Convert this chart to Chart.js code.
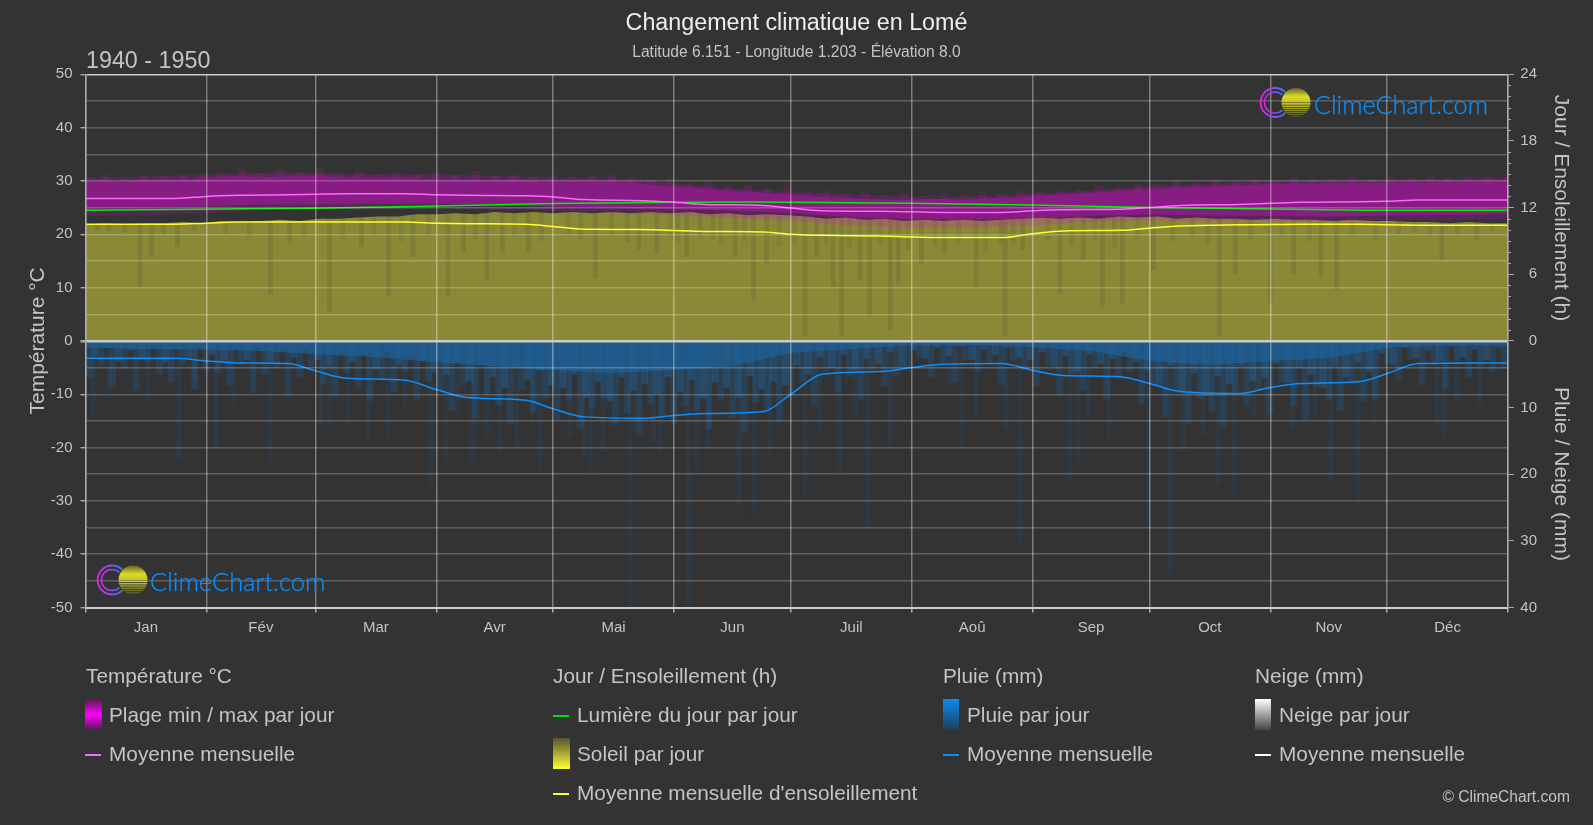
<!DOCTYPE html>
<html lang="fr">
<head>
<meta charset="utf-8">
<title>Changement climatique en Lomé</title>
<script src="https://cdn.jsdelivr.net/npm/chart.js@4"></script>
<style>
html, body { margin: 0; background: #333333; }
#page { position: relative; width: 1593px; height: 825px; overflow: hidden; font-family: "Liberation Sans", Arial, sans-serif; color: #c4c4c4; }
canvas { position: absolute; left: 0; top: 0; }
.txt { position: absolute; white-space: nowrap; line-height: 1; }
.legend { font-size: 20.8px; transform: translateY(-50%); }
.rot { font-size: 21px; transform: translate(-50%, -50%) rotate(90deg); }
.sw { position: absolute; width: 17px; height: 31px; }
.ln { position: absolute; width: 16px; height: 1.5px; }
.logo { position: absolute; width: 260px; height: 44px; }
</style>
</head>
<body>
<div id="page">
<canvas id="grafico" width="1593" height="825"></canvas>

<div class="txt" style="left:86px;top:49px;font-size:23.3px;color:#c4c4c4">1940 - 1950</div>
<div class="txt rot" style="left:1562px;top:208px">Jour / Ensoleillement (h)</div>
<div class="txt rot" style="left:1562px;top:474px">Pluie / Neige (mm)</div>

<svg width="0" height="0" style="position:absolute">
  <defs>
    <linearGradient id="anel" x1="0" x2="1" y1="0" y2="0"><stop offset="0" stop-color="#e81ff0"/><stop offset="1" stop-color="#3a78f0"/></linearGradient>
    <linearGradient id="sol" x1="0" x2="0" y1="0" y2="1"><stop offset="0" stop-color="#5c5b2a"/><stop offset="0.6" stop-color="#dcd926"/><stop offset="1" stop-color="#c8c526"/></linearGradient>
    <clipPath id="disco"><circle cx="45" cy="22" r="14.5"/></clipPath>
    <g id="marca">
      <path d="M34.3 11.7 A14.5 14.5 0 1 0 34.3 32.3" fill="none" stroke="url(#anel)" stroke-width="1.8"/>
      <path d="M31.4 14.6 A10.5 10.5 0 1 0 31.4 29.4" fill="none" stroke="url(#anel)" stroke-width="1.4"/>
      <g clip-path="url(#disco)">
        <rect x="30" y="7" width="30" height="15" fill="url(#sol)"/>
        <rect x="30" y="22.6" width="30" height="1.6" fill="#d4d126"/>
        <rect x="30" y="25" width="30" height="1.5" fill="#bdbb27"/>
        <rect x="30" y="27.3" width="30" height="1.4" fill="#a6a428"/>
        <rect x="30" y="29.5" width="30" height="1.3" fill="#908e29"/>
        <rect x="30" y="31.6" width="30" height="1.2" fill="#7b7a2a"/>
        <rect x="30" y="33.6" width="30" height="1.2" fill="#66652b"/>
        <rect x="30" y="35.4" width="30" height="1.2" fill="#58572c"/>
      </g>
    </g>
  </defs>
</svg>
<svg class="logo" style="left:1242px;top:82px"><use href="#marca" x="9" y="-1.5"/><text x="72" y="32" font-family="Lato" font-weight="300" font-size="25.2" fill="#0a8fff" stroke="#0a8fff" stroke-width="0.25">ClimeChart.com</text></svg>
<svg class="logo" style="left:77px;top:558px"><use href="#marca" x="11" y="0"/><text x="73" y="33" font-family="Lato" font-weight="300" font-size="25.4" fill="#0a8fff" stroke="#0a8fff" stroke-width="0.25">ClimeChart.com</text></svg>

<div class="txt legend" style="left:86px;top:676px">Température °C</div>
<div class="sw" style="left:85px;top:699px;background:linear-gradient(#551a55,#ff00ff 50%,#551a55)"></div>
<div class="txt legend" style="left:109px;top:715px">Plage min / max par jour</div>
<div class="ln" style="left:85px;top:754px;background:#ff66ff"></div>
<div class="txt legend" style="left:109px;top:754px">Moyenne mensuelle</div>

<div class="txt legend" style="left:553px;top:676px">Jour / Ensoleillement (h)</div>
<div class="ln" style="left:553px;top:715px;background:#00e000"></div>
<div class="txt legend" style="left:577px;top:715px">Lumière du jour par jour</div>
<div class="sw" style="left:553px;top:738px;background:linear-gradient(#55552c,#ffff33)"></div>
<div class="txt legend" style="left:577px;top:754px">Soleil par jour</div>
<div class="ln" style="left:553px;top:793px;background:#ffff33"></div>
<div class="txt legend" style="left:577px;top:793px">Moyenne mensuelle d'ensoleillement</div>

<div class="txt legend" style="left:943px;top:676px">Pluie (mm)</div>
<div class="sw" style="left:943px;top:699px;width:16px;background:linear-gradient(#0a8cf0,#1f3f58)"></div>
<div class="txt legend" style="left:967px;top:715px">Pluie par jour</div>
<div class="ln" style="left:943px;top:754px;background:#0a8cf0"></div>
<div class="txt legend" style="left:967px;top:754px">Moyenne mensuelle</div>

<div class="txt legend" style="left:1255px;top:676px">Neige (mm)</div>
<div class="sw" style="left:1255px;top:699px;width:16px;background:linear-gradient(#ffffff,#444444)"></div>
<div class="txt legend" style="left:1279px;top:715px">Neige par jour</div>
<div class="ln" style="left:1255px;top:754px;background:#ffffff"></div>
<div class="txt legend" style="left:1279px;top:754px">Moyenne mensuelle</div>

<div class="txt" style="right:23px;top:789px;font-size:15.6px">© ClimeChart.com</div>
</div>

<script>
// Valeurs. Jours comptés depuis le 1er janvier.
const months = ['Jan', 'Fév', 'Mar', 'Avr', 'Mai', 'Jun', 'Juil', 'Aoû', 'Sep', 'Oct', 'Nov', 'Déc'];
const monthStarts = [0, 31, 59, 90, 120, 151, 181, 212, 243, 273, 304, 334, 365];
const monthMiddles = [15.5, 45, 74.5, 105, 135.5, 166, 196.5, 227.5, 258, 288.5, 319, 349.5];

// moyennes mensuelles
const meanDays = [0, 8, 23, 31, 39, 52, 59, 67, 82, 90, 98, 113, 120, 128, 143, 151, 159, 174, 181, 189, 204, 212, 220, 235, 243, 251, 266, 273, 281, 296, 304, 312, 327, 334, 342, 357, 365];
const tempMean = [26.7, 26.7, 26.7, 27.1, 27.3, 27.4, 27.5, 27.6, 27.6, 27.4, 27.3, 27.2, 27.0, 26.5, 26.3, 26.0, 25.6, 25.4, 24.9, 24.4, 24.3, 24.2, 24.1, 24.1, 24.4, 24.6, 24.7, 25.0, 25.4, 25.6, 25.8, 26.0, 26.1, 26.2, 26.4, 26.4, 26.4];
const sunMean = [10.5, 10.5, 10.5, 10.6, 10.7, 10.7, 10.7, 10.7, 10.7, 10.6, 10.55, 10.5, 10.3, 10.05, 10.03, 9.93, 9.85, 9.8, 9.6, 9.5, 9.45, 9.35, 9.3, 9.3, 9.65, 9.9, 9.95, 10.15, 10.35, 10.45, 10.47, 10.5, 10.5, 10.45, 10.42, 10.4, 10.4];
const rainMean = [2.6, 2.6, 2.6, 3.0, 3.3, 3.4, 4.5, 5.6, 5.9, 7.3, 8.5, 8.9, 10.2, 11.4, 11.6, 11.2, 10.9, 10.6, 8.0, 5.0, 4.6, 4.0, 3.5, 3.4, 4.4, 5.2, 5.4, 6.4, 7.6, 7.9, 7.0, 6.4, 6.1, 4.9, 3.4, 3.3, 3.3];

// durée du jour (h)
const daylightDays = [0, 31, 59, 90, 120, 151, 172, 181, 212, 243, 273, 304, 334, 365];
const daylight = [11.76, 11.86, 11.95, 12.14, 12.36, 12.48, 12.5, 12.48, 12.38, 12.24, 12.0, 11.88, 11.76, 11.76];

// bords des bandes, tous les 5 jours
const edgeDays = [0, 5, 10, 15, 20, 25, 30, 35, 40, 45, 50, 55, 60, 65, 70, 75, 80, 85, 90, 95, 100, 105, 110, 115, 120, 125, 130, 135, 140, 145, 150, 155, 160, 165, 170, 175, 180, 185, 190, 195, 200, 205, 210, 215, 220, 225, 230, 235, 240, 245, 250, 255, 260, 265, 270, 275, 280, 285, 290, 295, 300, 305, 310, 315, 320, 325, 330, 335, 340, 345, 350, 355, 360, 365];
const tempTop = [30.0, 30.1, 29.9, 30.2, 30.3, 30.2, 30.5, 30.8, 30.9, 30.7, 30.8, 30.9, 31.0, 30.6, 30.7, 30.5, 30.6, 30.4, 30.3, 30.3, 30.2, 30.0, 30.3, 29.9, 29.9, 30.0, 29.8, 29.9, 29.7, 29.3, 29.0, 28.8, 28.5, 28.1, 28.0, 27.7, 27.5, 27.2, 27.0, 26.9, 26.7, 26.5, 26.5, 26.6, 26.6, 26.5, 26.7, 26.8, 27.0, 27.3, 27.5, 27.6, 27.9, 28.1, 28.4, 28.6, 28.7, 28.9, 29.0, 29.1, 29.3, 29.4, 29.5, 29.5, 29.6, 29.7, 29.6, 29.7, 29.8, 29.7, 29.9, 29.8, 30.0, 30.1];
const tempFringe = [30.7, 31.2, 30.5, 31.0, 30.9, 31.3, 31.4, 31.5, 32.2, 31.4, 32.0, 31.6, 32.3, 31.3, 31.7, 31.1, 31.6, 31.2, 31.5, 31.0, 31.8, 30.9, 31.2, 30.8, 31.1, 30.7, 31.0, 31.4, 30.6, 30.2, 30.3, 29.6, 29.8, 29.0, 29.2, 28.5, 28.8, 28.0, 28.1, 27.6, 27.9, 27.2, 27.7, 27.2, 27.6, 27.1, 27.8, 27.4, 28.1, 28.0, 28.4, 28.3, 29.0, 28.8, 29.5, 29.3, 29.9, 29.5, 30.2, 29.8, 30.2, 30.1, 30.6, 30.3, 30.5, 30.9, 30.3, 30.7, 30.5, 30.9, 30.6, 31.0, 30.7, 31.2];
const sunTop = [10.5, 10.6, 10.5, 10.6, 10.6, 10.7, 10.6, 10.8, 10.7, 10.8, 10.9, 10.8, 11.0, 11.0, 11.1, 11.2, 11.2, 11.4, 11.4, 11.5, 11.4, 11.6, 11.5, 11.6, 11.5, 11.6, 11.5, 11.6, 11.5, 11.6, 11.5, 11.6, 11.4, 11.5, 11.3, 11.4, 11.3, 11.2, 11.0, 11.1, 10.9, 11.0, 10.8, 10.9, 10.8, 10.9, 10.8, 10.9, 11.0, 11.1, 11.0, 11.1, 11.0, 11.2, 11.1, 11.2, 11.0, 11.1, 11.0, 11.0, 10.9, 11.0, 10.9, 10.9, 10.8, 10.9, 10.8, 10.8, 10.7, 10.7, 10.6, 10.7, 10.6, 10.6];

// bords plus lisses, par demi-mois
const halfDays = [0, 15, 31, 45, 59, 74, 90, 105, 120, 135, 151, 166, 181, 196, 212, 227, 243, 258, 273, 288, 304, 319, 334, 349, 365];
const tempFuzzTop = [30.6, 30.8, 31.1, 31.5, 31.5, 31.2, 31.2, 31.0, 30.6, 30.6, 29.5, 28.6, 27.9, 27.4, 27.1, 27.1, 27.6, 28.2, 29.0, 29.5, 29.9, 30.1, 30.2, 30.4, 30.6];
const tempFuzzBottom = [23.4, 23.5, 24.0, 24.6, 24.8, 24.8, 24.9, 24.8, 24.4, 24.0, 23.6, 23.0, 22.6, 21.6, 21.2, 21.2, 21.6, 22.4, 22.6, 22.5, 22.5, 22.4, 22.6, 22.6, 22.8];
const tempBottom = [24.8, 25.0, 25.2, 25.6, 25.6, 25.7, 25.7, 25.5, 25.2, 25.0, 24.7, 24.4, 24.0, 23.2, 22.8, 22.7, 23.0, 23.4, 23.7, 23.5, 23.4, 23.3, 23.5, 23.6, 23.8];
const rainCore = [1.0, 1.2, 1.3, 1.5, 2.0, 2.4, 3.2, 3.8, 4.4, 4.8, 4.4, 3.8, 1.8, 1.2, 0.7, 0.6, 0.9, 1.5, 3.0, 3.6, 3.0, 2.6, 1.0, 0.7, 0.7];

// pluie : profondeur dense, un trait tous les 3 jours
const rainDenseDays = [1, 4, 7, 10, 13, 16, 19, 22, 25, 28, 31, 34, 37, 40, 43, 46, 49, 52, 55, 58, 61, 64, 67, 70, 73, 76, 79, 82, 85, 88, 91, 94, 97, 100, 103, 106, 109, 112, 115, 118, 121, 124, 127, 130, 133, 136, 139, 142, 145, 148, 151, 154, 157, 160, 163, 166, 169, 172, 175, 178, 181, 184, 187, 190, 193, 196, 199, 202, 205, 208, 211, 214, 217, 220, 223, 226, 229, 232, 235, 238, 241, 244, 247, 250, 253, 256, 259, 262, 265, 268, 271, 274, 277, 280, 283, 286, 289, 292, 295, 298, 301, 304, 307, 310, 313, 316, 319, 322, 325, 328, 331, 334, 337, 340, 343, 346, 349, 352, 355, 358, 361, 364];
const rainDense = [5.5, 3.6, 6.8, 4.2, 7.4, 3.2, 5.0, 6.2, 3.4, 7.2, 4.4, 4.8, 6.6, 3.6, 7.8, 5.0, 4.0, 8.2, 5.4, 3.8, 6.4, 8.4, 4.8, 7.0, 9.0, 5.6, 7.6, 4.6, 8.8, 6.0, 7.4, 10.4, 6.6, 11.6, 8.0, 9.6, 12.4, 7.2, 10.6, 8.6, 11.8, 9.0, 13.0, 10.2, 8.6, 12.6, 10.8, 14.0, 9.4, 11.2, 12.4, 9.6, 10.4, 13.2, 8.8, 11.6, 13.8, 9.2, 10.8, 12.2, 8.4, 6.0, 9.6, 4.8, 7.6, 5.4, 8.8, 4.4, 6.8, 5.2, 4.2, 2.6, 5.4, 3.2, 6.2, 2.8, 4.6, 3.4, 6.6, 3.0, 4.4, 6.8, 3.6, 8.2, 5.0, 7.4, 4.0, 8.8, 5.6, 4.6, 9.4, 6.4, 11.4, 7.8, 12.4, 8.6, 10.6, 13.0, 7.6, 9.8, 7.4, 10.8, 6.2, 9.6, 11.8, 6.8, 8.8, 10.4, 6.4, 9.0, 8.6, 3.4, 5.8, 2.8, 6.6, 3.6, 7.0, 3.0, 5.4, 3.8, 4.6, 4.2];
// traits courts entre les précédents
const rainShortDays = [2.5, 5.5, 8.5, 11.5, 14.5, 17.5, 20.5, 23.5, 26.5, 29.5, 32.5, 35.5, 38.5, 41.5, 44.5, 47.5, 50.5, 53.5, 56.5, 59.5, 62.5, 65.5, 68.5, 71.5, 74.5, 77.5, 80.5, 83.5, 86.5, 89.5, 92.5, 95.5, 98.5, 101.5, 104.5, 107.5, 110.5, 113.5, 116.5, 119.5, 122.5, 125.5, 128.5, 131.5, 134.5, 137.5, 140.5, 143.5, 146.5, 149.5, 152.5, 155.5, 158.5, 161.5, 164.5, 167.5, 170.5, 173.5, 176.5, 179.5, 182.5, 185.5, 188.5, 191.5, 194.5, 197.5, 200.5, 203.5, 206.5, 209.5, 212.5, 215.5, 218.5, 221.5, 224.5, 227.5, 230.5, 233.5, 236.5, 239.5, 242.5, 245.5, 248.5, 251.5, 254.5, 257.5, 260.5, 263.5, 266.5, 269.5, 272.5, 275.5, 278.5, 281.5, 284.5, 287.5, 290.5, 293.5, 296.5, 299.5, 302.5, 305.5, 308.5, 311.5, 314.5, 317.5, 320.5, 323.5, 326.5, 329.5, 332.5, 335.5, 338.5, 341.5, 344.5, 347.5, 350.5, 353.5, 356.5, 359.5, 362.5];
const rainShort = [2.2, 1.0, 3.0, 1.4, 2.4, 0.8, 3.2, 1.2, 2.6, 1.0, 2.0, 3.0, 1.2, 2.8, 1.0, 3.4, 1.4, 2.4, 1.0, 2.8, 3.8, 1.8, 3.2, 2.0, 4.2, 1.6, 3.6, 2.2, 3.0, 4.6, 5.0, 3.0, 6.0, 3.6, 5.4, 7.0, 3.8, 5.8, 4.4, 6.6, 7.0, 5.0, 8.4, 6.0, 9.0, 5.4, 7.4, 6.4, 8.0, 5.4, 7.6, 5.8, 8.6, 6.2, 7.0, 8.4, 5.2, 7.2, 6.0, 6.6, 3.6, 5.0, 2.4, 4.0, 2.0, 4.4, 2.6, 3.4, 1.6, 3.8, 1.4, 2.6, 1.0, 2.2, 0.8, 2.8, 1.2, 2.0, 1.0, 2.4, 2.8, 1.6, 3.8, 2.2, 4.6, 2.0, 3.4, 2.6, 1.6, 3.2, 4.4, 6.8, 3.6, 7.6, 4.8, 8.2, 5.2, 6.4, 3.8, 6.0, 5.6, 3.4, 6.2, 4.0, 5.0, 7.0, 3.8, 5.4, 3.2, 4.6, 1.8, 3.6, 1.0, 2.6, 1.4, 3.0, 0.8, 2.4, 1.2, 2.8, 1.0];

// pluie : grands traits isolés
const rainSpikeDays = [2, 6, 16, 24, 28, 33.5, 38, 47.5, 60.5, 62.6, 67.5, 72.5, 77.4, 82, 88.6, 92.5, 95.5, 99.4, 103, 106.5, 110.7, 114.6, 116.6, 124.4, 127.8, 129.7, 132.7, 139.6, 145.8, 147.6, 154.7, 156.9, 159.8, 167.7, 171.6, 175.6, 184.6, 188.4, 193.5, 197.5, 200.7, 206.5, 221.5, 224.7, 228.5, 236.2, 239.6, 252.6, 254.6, 257.3, 262.7, 272.7, 278.4, 281.7, 286.7, 290.7, 294.7, 299.7, 303, 309.7, 315.5, 319.6, 326.6, 330.5, 346.8, 348.7, 351.8, 357.7];
const rainSpikes = [11.5, 7.8, 8.8, 17.8, 5.8, 16, 10, 17.8, 12.8, 12.6, 12.3, 15.5, 14.5, 10.3, 22, 18.3, 11.3, 18.5, 14.3, 17, 15.8, 11.8, 19.3, 14.3, 17.2, 19.7, 16.7, 39.8, 15, 17, 39.8, 19.5, 16, 24.3, 26, 17, 23.8, 14, 19.7, 11.5, 27.8, 15.5, 6.5, 15.5, 11.5, 13, 30.2, 20.8, 18.5, 11.5, 14.8, 27.5, 35.2, 16.5, 14.2, 21.5, 23, 11.5, 11.8, 13.2, 11.5, 20.8, 23.8, 12, 12.7, 14.8, 9.2, 9.8];

// soleil : jours couverts, hauteur du bas du creux (h)
const sunDipDays = [6, 14, 17, 23.6, 47.5, 52.4, 62.6, 70.8, 77.8, 84, 93, 97, 103, 107, 113.6, 130.8, 142, 146.6, 154.3, 157.7, 166.7, 171.4, 174.8, 184.6, 187.6, 191.8, 194, 198.7, 201.2, 206.5, 208.5, 214.5, 220.4, 228.5, 234.9, 236, 240.5, 250, 256, 261, 266, 274, 291, 295, 304, 310, 317, 321, 337, 348, 357];
const sunDips = [9.9, 4.9, 7.6, 8.5, 4.2, 8.8, 2.7, 8.5, 4.0, 7.6, 4.0, 8.0, 5.5, 8.0, 8.0, 5.6, 8.2, 7.9, 7.6, 9.4, 7.6, 3.7, 7.0, 0.5, 7.6, 4.9, 0.5, 5.5, 2.2, 1.0, 5.2, 7.0, 7.9, 4.9, 8.8, 0.5, 8.2, 4.3, 7.3, 3.1, 3.4, 6.4, 0.4, 6.0, 3.4, 6.0, 5.8, 4.6, 9.7, 7.3, 9.1];
// creux courts sous le bord de la bande
const sunNotchDays = [3, 10, 20, 28, 36, 42, 56, 66, 74, 81, 88, 100, 110, 117, 124, 127, 135, 139, 150, 152, 161, 163, 169, 178, 182, 190, 196, 204, 211, 218, 224, 231, 238, 247, 253, 259, 264, 270, 279, 284, 288, 299, 307, 314, 325, 331, 341, 345, 352, 361];
const sunNotches = [10.0, 9.8, 9.6, 9.9, 9.7, 9.3, 9.4, 9.2, 9.6, 9.0, 9.4, 9.2, 9.5, 9.0, 9.6, 9.2, 9.4, 8.9, 9.3, 9.0, 9.2, 8.8, 9.0, 8.6, 8.8, 8.6, 8.4, 8.8, 8.2, 8.6, 8.9, 8.2, 8.8, 9.0, 8.6, 9.1, 8.4, 9.2, 9.0, 9.4, 8.8, 9.2, 9.4, 9.0, 9.6, 9.2, 9.8, 9.4, 9.6, 9.9];

const snowDays = [0, 365];
const snowMean = [0, 0];

const minorHours = [1, 2, 3, 4, 5, 7, 8, 9, 10, 11, 13, 14, 15, 16, 17, 19, 20, 21, 22, 23];

function pares(xs, ys) {
    return xs.map(function (x, i) { return { x: x, y: ys[i] }; });
}

function faixa(xs, ys, eixo, cor, alvo) {
    return { type: 'line', data: pares(xs, ys), yAxisID: eixo, pointRadius: 0, borderWidth: 0, tension: 0, backgroundColor: cor, fill: alvo };
}

function barras(xs, ys, eixo, cor, largura) {
    return { type: 'bar', data: pares(xs, ys), yAxisID: eixo, backgroundColor: cor, barThickness: largura, grouped: false, borderWidth: 0 };
}

function linha(xs, ys, eixo, cor) {
    return { type: 'line', data: pares(xs, ys), yAxisID: eixo, pointRadius: 0, borderWidth: 1.5, borderColor: cor, cubicInterpolationMode: 'monotone', fill: false };
}

function ateDoze(v) { return [v, 12]; }
function ateMeio(v) { return [27, v]; }

// l'ordre du tableau est l'ordre de dessin, du fond vers le dessus
var conjuntos = [
    faixa(edgeDays, sunTop, 'ySun', '#8a8a36', 'origin'),
    barras(sunNotchDays, sunNotches.map(ateDoze), 'ySun', 'rgba(51,51,51,0.13)', 4),
    barras(sunDipDays, sunDips.map(ateDoze), 'ySun', 'rgba(51,51,51,0.15)', 4),
    faixa(halfDays, tempFuzzTop, 'y', 'rgba(220,0,220,0.2)', '+1'),
    faixa(halfDays, tempFuzzBottom, 'y', 'transparent', false),
    barras(edgeDays, tempFringe.map(ateMeio), 'y', 'rgba(200,20,195,0.16)', 8),
    faixa(edgeDays, tempTop, 'y', 'rgba(142,26,137,0.88)', '+1'),
    faixa(halfDays, tempBottom, 'y', 'transparent', false),
    barras(rainSpikeDays, rainSpikes, 'yRain', 'rgba(30,95,150,0.16)', 4),
    barras(rainDenseDays, rainDense, 'yRain', 'rgba(28,100,160,0.3)', 6),
    barras(rainShortDays, rainShort, 'yRain', 'rgba(28,105,170,0.42)', 6),
    faixa(halfDays, rainCore, 'yRain', 'rgba(25,105,170,0.55)', 'origin'),
    linha(snowDays, snowMean, 'yRain', '#dddddd'),
    linha(daylightDays, daylight, 'ySun', '#00f000'),
    linha(meanDays, tempMean, 'y', '#ff66ff'),
    linha(meanDays, sunMean, 'ySun', '#ffff33'),
    linha(meanDays, rainMean, 'yRain', '#0a90ff')
];
conjuntos.forEach(function (d, i) { d.order = 100 - i; });

// petites graduations horaires de l'axe de droite
var tirets = {
    id: 'tirets',
    afterLayout: function (chart) {
        // les étiquettes de droite s'alignent sur ce bord
        chart.scales.ySun.right = chart.scales.ySun.left + 29;
    },
    afterDraw: function (chart) {
        var s = chart.scales.ySun, c = chart.ctx;
        c.save();
        c.strokeStyle = '#aaaaaa';
        c.lineWidth = 1;
        minorHours.forEach(function (h) {
            var py = Math.round(s.getPixelForValue(h)) + 0.5;
            c.beginPath();
            c.moveTo(s.left, py);
            c.lineTo(s.left + 3, py);
            c.stroke();
        });
        c.restore();
    }
};

var ctx = document.getElementById('grafico').getContext('2d');
var grafico = new Chart(ctx, {
    data: { datasets: conjuntos },
    plugins: [tirets],
    options: {
        responsive: false,
        animation: false,
        layout: { padding: 0 },
        font: { family: '"Liberation Sans", Arial, sans-serif' },
        plugins: {
            legend: { display: false },
            tooltip: { enabled: false },
            title: { display: true, text: 'Changement climatique en Lomé', color: '#eeeeee', font: { size: 23.3, weight: 'normal' }, padding: { top: 10, bottom: 5.6 } },
            subtitle: { display: true, text: 'Latitude 6.151 - Longitude 1.203 - Élévation 8.0', color: '#c4c4c4', font: { size: 15.6 }, padding: { top: 0, bottom: 12 } }
        },
        scales: {
            x: {
                type: 'linear', min: 0, max: 365, offset: false,
                afterBuildTicks: function (s) {
                    s.ticks = monthStarts.concat(monthMiddles).sort(function (a, b) { return a - b; }).map(function (v) { return { value: v }; });
                },
                afterFit: function (s) { s.height = 217.5; },
                ticks: {
                    autoSkip: false, maxRotation: 0, color: '#c4c4c4', font: { size: 15 }, padding: 6,
                    callback: function (v) { var i = monthMiddles.indexOf(v); return i < 0 ? '' : months[i]; }
                },
                grid: {
                    z: 1, tickLength: 5, lineWidth: 1.5, offset: false,
                    color: function (c) { return c.tick && monthStarts.indexOf(c.tick.value) >= 0 ? 'rgba(255,255,255,0.36)' : 'transparent'; },
                    tickColor: function (c) { return c.tick && monthStarts.indexOf(c.tick.value) >= 0 ? '#aaaaaa' : 'transparent'; }
                },
                border: { color: '#cccccc', width: 2, z: 2 }
            },
            y: {
                position: 'left', min: -50, max: 50,
                afterFit: function (s) { s.width = 85.5; },
                title: { display: true, text: 'Température °C', color: '#c4c4c4', font: { size: 21 }, padding: { top: 26, bottom: 0 } },
                ticks: {
                    stepSize: 5, autoSkip: false, color: '#c4c4c4', font: { size: 15 }, padding: 8,
                    callback: function (v) { return v % 10 === 0 ? v : ''; }
                },
                grid: {
                    z: 1, tickLength: 5,
                    lineWidth: function (c) { return c.tick && c.tick.value === 0 ? 2.5 : 1.4; },
                    color: function (c) {
                        if (!c.tick) return 'transparent';
                        var v = c.tick.value;
                        if (v === 0 || v === 50 || v === -50) return '#cccccc';
                        return 'rgba(255,255,255,0.22)';
                    },
                    tickColor: function (c) { return c.tick && c.tick.value % 10 === 0 ? '#aaaaaa' : 'transparent'; }
                },
                border: { color: '#aaaaaa', width: 1.5, z: 2 }
            },
            ySun: {
                position: 'right', min: -24, max: 24,
                afterFit: function (s) { s.width = 85; },
                ticks: {
                    stepSize: 6, autoSkip: false, color: '#c4c4c4', font: { size: 15 }, padding: 6, crossAlign: 'far',
                    callback: function (v) { return v >= 0 ? v : -v / 6 * 10; }
                },
                grid: { drawOnChartArea: false, tickLength: 6, tickColor: '#aaaaaa' },
                border: { color: '#aaaaaa', width: 1.5, z: 2 }
            },
            yRain: { display: false, reverse: true, min: -40, max: 40 }
        }
    }
});
</script>
</body>
</html>
